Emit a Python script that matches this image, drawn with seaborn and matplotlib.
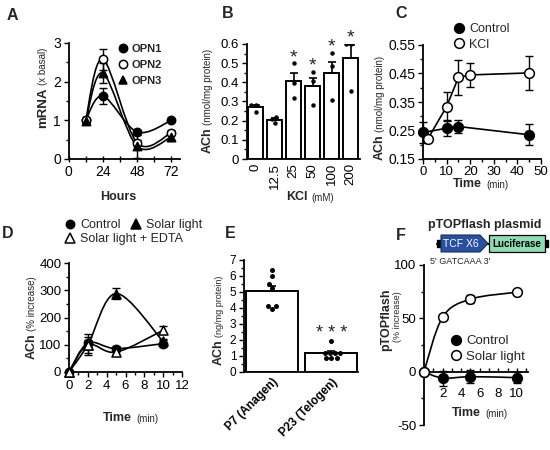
import numpy as np
import pandas as pd
import matplotlib
matplotlib.use("Agg")
import matplotlib.pyplot as plt
import seaborn as sns
from matplotlib.path import Path
from matplotlib.patches import PathPatch, Polygon, Rectangle
from matplotlib.lines import Line2D
from matplotlib.ticker import MultipleLocator, FuncFormatter

# ---------------- data ----------------
# Panel A
a_hours = [12, 24, 48, 72]
a_opn1 = [1.00, 1.63, 0.70, 1.00]
a_opn1_err = [0.05, 0.20, 0.06, 0.04]
a_opn2 = [1.00, 2.58, 0.42, 0.68]
a_opn2_err = [0.05, 0.27, 0.08, 0.06]
a_opn3 = [0.97, 2.22, 0.33, 0.57]
a_opn3_err = [0.05, 0.25, 0.30, 0.10]
a_labels = ["OPN1", "OPN2", "OPN3"]

# Panel B
b_kcl = ["0", "12.5", "25", "50", "100", "200"]
b_mean = [0.27, 0.205, 0.405, 0.38, 0.45, 0.525]
b_err = [0.01, 0.01, 0.045, 0.042, 0.055, 0.07]
b_dot_kcl = ["0"] * 3 + ["12.5"] * 3 + ["25"] * 3 + ["50"] * 3 + ["100"] * 3 + ["200"] * 3
b_dot_val = [0.28, 0.28, 0.245, 0.22, 0.21, 0.19, 0.50, 0.395, 0.32,
             0.455, 0.405, 0.28, 0.555, 0.485, 0.31, 0.60, 0.60, 0.355]
b_star = ["", "", "*", "*", "*", "*"]

# Panel C
c_ctrl_t = [0, 10, 15, 45]
c_ctrl = [0.243, 0.258, 0.264, 0.235]
c_ctrl_err = [0.037, 0.028, 0.024, 0.037]
c_kcl_t = [2, 10, 15, 20, 45]
c_kcl = [0.220, 0.334, 0.436, 0.445, 0.452]
c_kcl_err = [0.010, 0.052, 0.060, 0.043, 0.060]
c_labels = ["Control", "KCl"]

# Panel D
d_t = [0, 2, 5, 10]
d_ctrl = [0, 106, 86, 104]
d_ctrl_err = [0, 12, 10, 12]
d_solar = [0, 100, 288, 112]
d_solar_err = [0, 38, 20, 10]
d_edta = [0, 100, 73, 153]
d_edta_err = [0, 30, 8, 15]
d_labels = ["Control", "Solar light", "Solar light + EDTA"]

# Panel E
e_groups = ["P7 (Anagen)", "P23 (Telogen)"]
e_mean = [5.05, 1.18]
e_err = [0.35, 0.15]
e_dot_group = ["P7 (Anagen)"] * 7 + ["P23 (Telogen)"] * 8
e_dot_val = [6.35, 6.0, 5.5, 5.25, 4.15, 4.15, 3.95,
             1.95, 1.2, 1.2, 1.2, 1.2, 0.9, 0.9, 0.9]
e_star = ["", "* * *"]

# Panel F
f_t = [0, 2, 5, 10]
f_ctrl = [0, -6, -4.7, -5.6]
f_ctrl_err = [0, 7, 6, 5]
f_solar = [0, 51, 68, 74.5]
f_solar_err = [0, 2, 4, 2]
f_labels = ["Control", "Solar light"]

# ---------------- setup ----------------
sns.set_theme(style="ticks")
plt.rcParams["font.family"] = ["Liberation Sans", "DejaVu Sans"]
plt.rcParams["axes.linewidth"] = 1.3
plt.rcParams["axes.unicode_minus"] = False

W, H = 550, 450
fig = plt.figure(figsize=(5.5, 4.5), dpi=100)
fig.patch.set_facecolor("white")


def fx(x):
    return x / W


def fy(y):
    return 1 - y / H


def add_ax(l, t, r, b):
    return fig.add_axes([l / W, 1 - b / H, (r - l) / W, (b - t) / H])


def style(ax, size=10):
    for s in ["top", "right"]:
        ax.spines[s].set_visible(False)
    for s in ["left", "bottom"]:
        ax.spines[s].set_linewidth(1.3)
        ax.spines[s].set_color("black")
    ax.tick_params(which="both", colors="black", width=1.0, labelsize=size, pad=2)
    ax.tick_params(which="major", length=3.5)
    ax.tick_params(which="minor", length=2)
    ax.set_xlabel("")
    ax.set_ylabel("")
    ax.set_facecolor("none")


def smooth_line(ax, x, y, lw=1.2):
    pts = np.column_stack([np.asarray(x, float), np.asarray(y, float)])
    n = len(pts)
    verts = [pts[0]]
    codes = [Path.MOVETO]
    for i in range(n - 1):
        p0 = pts[i - 1] if i > 0 else pts[i]
        p1 = pts[i]
        p2 = pts[i + 1]
        p3 = pts[i + 2] if i + 2 < n else pts[i + 1]
        verts += [p1 + (p2 - p0) / 6.0, p2 - (p3 - p1) / 6.0, p2]
        codes += [Path.CURVE4] * 3
    ax.add_patch(PathPatch(Path(verts, codes), fill=False, edgecolor="black",
                           lw=lw, zorder=1, clip_on=False))


def series(ax, x, y, err, marker, filled, ms=6, smooth=True):
    if smooth:
        smooth_line(ax, x, y)
    else:
        sns.lineplot(x=x, y=y, ax=ax, color="black", lw=1.2, zorder=1,
                     legend=False, sort=False)
    ax.errorbar(x, y, yerr=err, fmt="none", ecolor="black", elinewidth=1.0,
                capsize=3, capthick=1.0, zorder=2, clip_on=False)
    sns.scatterplot(x=x, y=y, ax=ax, marker=marker, s=ms ** 2,
                    color="black" if filled else "white", edgecolor="black",
                    linewidth=1.1, zorder=4, clip_on=False, legend=False)


def handle(marker, filled, ms=6):
    return Line2D([], [], ls="none", marker=marker, ms=ms,
                  mfc="black" if filled else "white", mec="black", mew=1.1)


def ylab(ax, xpx, ybot, big, small, bs=9, ss=7, gap=2):
    t = fig.text(fx(xpx), fy(ybot), big, rotation=90, ha="center", va="bottom",
                 fontsize=bs, fontweight="bold")
    if small:
        ax.annotate(small, xy=(0.5, 1), xycoords=t, xytext=(0, gap),
                    textcoords="offset points", rotation=90, ha="center",
                    va="bottom", fontsize=ss, annotation_clip=False)


def xlab(ax, xleft, yc, big, small, bs=9, ss=7):
    t = fig.text(fx(xleft), fy(yc), big, ha="left", va="center", fontsize=bs,
                 fontweight="bold")
    if small:
        ax.annotate(small, xy=(1, 0), xycoords=t, xytext=(3, 0),
                    textcoords="offset points", ha="left", va="bottom",
                    fontsize=ss, annotation_clip=False)


def leg(ax, handles, labels, x, y, size=9, bold=False, ncol=1, ls=0.3):
    lg = ax.legend(handles, labels, loc="upper left",
                   bbox_to_anchor=(fx(x), fy(y)), bbox_transform=fig.transFigure,
                   frameon=False, prop={"size": size, "weight": "bold" if bold else "normal"},
                   handletextpad=0.3, labelspacing=ls, borderpad=0, borderaxespad=0,
                   handlelength=1.0, ncol=ncol, columnspacing=0.7)
    return lg


# ---------------- Panel A ----------------
axA = add_ax(68.5, 43, 180, 159)
series(axA, a_hours, a_opn1, a_opn1_err, "o", True, ms=6)
series(axA, a_hours, a_opn2, a_opn2_err, "o", False, ms=6)
series(axA, a_hours, a_opn3, a_opn3_err, "^", True, ms=6)
axA.set_xlim(0, 78)
axA.set_ylim(0, 3)
axA.xaxis.set_major_locator(MultipleLocator(24))
axA.xaxis.set_minor_locator(MultipleLocator(12))
axA.yaxis.set_major_locator(MultipleLocator(1))
axA.yaxis.set_minor_locator(MultipleLocator(0.5))
style(axA, 10)
axA.tick_params(axis="x", which="both", direction="inout", length=5)
leg(axA, [handle("o", True), handle("o", False), handle("^", True)], a_labels,
    117, 44, size=8, bold=True, ls=0.55)
ylab(axA, 43, 128, "mRNA", "(x basal)", bs=9.5, ss=7)
fig.text(fx(118), fy(197), "Hours", ha="center", va="center", fontsize=9, fontweight="bold")

# ---------------- Panel B ----------------
axB = add_ax(247, 44, 360, 159)
sns.barplot(x=b_kcl, y=b_mean, order=b_kcl, ax=axB, color="white", edgecolor="black",
            linewidth=1.4, width=0.8, errorbar=None, saturation=1)
bx = np.arange(len(b_kcl))
axB.errorbar(bx, b_mean, yerr=[np.zeros(len(b_err)), b_err], fmt="none", ecolor="black",
             elinewidth=1.2, capsize=3, capthick=1.2, zorder=3)
sns.swarmplot(x=b_dot_kcl, y=b_dot_val, order=b_kcl, ax=axB, color="black", size=3.2,
              zorder=5)
bdf = pd.DataFrame({"k": b_dot_kcl, "v": b_dot_val})
bmax = bdf.groupby("k")["v"].max()
for i, k in enumerate(b_kcl):
    if b_star[i]:
        top = max(bmax[k], b_mean[i] + b_err[i])
        axB.text(i, top + 0.006, b_star[i], ha="center", va="baseline", fontsize=14)
axB.set_xlim(-0.45, 5.5)
axB.set_ylim(0, 0.6)
axB.yaxis.set_major_locator(MultipleLocator(0.1))
axB.yaxis.set_minor_locator(MultipleLocator(0.05))
axB.yaxis.set_major_formatter(FuncFormatter(lambda v, p: "0" if abs(v) < 1e-9 else f"{v:.1f}"))
style(axB, 9.5)
axB.tick_params(axis="x", which="both", length=0, rotation=90, pad=3)
ylab(axB, 208, 153, "ACh", "(nmol/mg protein)", bs=9, ss=7)
xlab(axB, 286, 197, "KCl", "(mM)", bs=9, ss=7)

# ---------------- Panel C ----------------
axC = add_ax(423, 45, 541, 159)
series(axC, c_ctrl_t, c_ctrl, c_ctrl_err, "o", True, ms=7, smooth=False)
series(axC, c_kcl_t, c_kcl, c_kcl_err, "o", False, ms=7, smooth=False)
axC.set_xlim(0, 50)
axC.set_ylim(0.15, 0.55)
axC.xaxis.set_major_locator(MultipleLocator(10))
axC.xaxis.set_minor_locator(MultipleLocator(5))
axC.set_yticks([0.15, 0.25, 0.35, 0.45, 0.55])
axC.yaxis.set_minor_locator(MultipleLocator(0.05))
axC.yaxis.set_major_formatter(FuncFormatter(lambda v, p: f"{v:.2f}"))
style(axC, 10)
axC.tick_params(axis="x", labelsize=9.5, pad=1.5)
leg(axC, [handle("o", True, 7), handle("o", False, 7)], c_labels, 453, 23, size=9, ls=0.3)
ylab(axC, 380, 160, "ACh", "(nmol/mg protein)", bs=9, ss=7)
xlab(axC, 453, 184, "Time", "(min)", bs=9, ss=7)

# ---------------- Panel D ----------------
axD = add_ax(69, 263, 182, 372)
series(axD, d_t, d_ctrl, d_ctrl_err, "o", True, ms=6)
series(axD, d_t, d_solar, d_solar_err, "^", True, ms=6.5)
series(axD, d_t, d_edta, d_edta_err, "^", False, ms=6.5)
axD.set_xlim(0, 12)
axD.set_ylim(0, 400)
axD.xaxis.set_major_locator(MultipleLocator(2))
axD.xaxis.set_minor_locator(MultipleLocator(1))
axD.yaxis.set_major_locator(MultipleLocator(100))
axD.yaxis.set_minor_locator(MultipleLocator(50))
style(axD, 9.5)
lg1 = leg(axD, [handle("o", True), handle("^", True, 7)], d_labels[:2], 64, 219,
          size=9, ncol=2)
axD.add_artist(lg1)
leg(axD, [handle("^", False, 7)], d_labels[2:], 64, 233, size=9)
ylab(axD, 32, 359, "ACh", "(% increase)", bs=9, ss=7)
xlab(axD, 103, 418, "Time", "(min)", bs=9, ss=7)

# ---------------- Panel E ----------------
axE = add_ax(244, 260, 358, 372)
sns.barplot(x=e_groups, y=e_mean, order=e_groups, ax=axE, color="white", edgecolor="black",
            linewidth=1.4, width=0.87, errorbar=None, saturation=1)
ex = np.arange(len(e_groups))
axE.errorbar(ex, e_mean, yerr=[np.zeros(len(e_err)), e_err], fmt="none", ecolor="black",
             elinewidth=1.2, capsize=3, capthick=1.2, zorder=3)
sns.swarmplot(x=e_dot_group, y=e_dot_val, order=e_groups, ax=axE, color="black", size=3.6,
              zorder=5)
edf = pd.DataFrame({"g": e_dot_group, "v": e_dot_val})
emax = edf.groupby("g")["v"].max()
for i, g in enumerate(e_groups):
    if e_star[i]:
        top = max(emax[g], e_mean[i] + e_err[i])
        axE.text(i, top + 0.15, e_star[i], ha="center", va="baseline", fontsize=13)
axE.set_xlim(-0.47, 1.45)
axE.set_ylim(0, 7)
axE.yaxis.set_major_locator(MultipleLocator(1))
axE.yaxis.set_minor_locator(MultipleLocator(0.5))
style(axE, 8.5)
axE.tick_params(axis="x", which="both", length=0, pad=3)
for lab in axE.get_xticklabels():
    lab.set_rotation(45)
    lab.set_ha("right")
    lab.set_va("top")
    lab.set_rotation_mode("anchor")
    lab.set_fontweight("bold")
    lab.set_fontsize(8.5)
ylab(axE, 219, 365, "ACh", "(ng/mg protein)", bs=9, ss=6.5)

# ---------------- Panel F ----------------
axF = add_ax(424, 265, 528, 425)
series(axF, f_t, f_ctrl, f_ctrl_err, "o", True, ms=7)
series(axF, f_t, f_solar, f_solar_err, "o", False, ms=7)
axF.set_xlim(0, 11.2)
axF.set_ylim(-50, 100)
axF.set_xticks([2, 4, 6, 8, 10])
axF.xaxis.set_minor_locator(MultipleLocator(1))
axF.yaxis.set_major_locator(MultipleLocator(50))
axF.yaxis.set_minor_locator(MultipleLocator(25))
style(axF, 9.5)
axF.spines["bottom"].set_position(("data", 0))
axF.tick_params(axis="x", which="both", direction="in", length=3, labelsize=9.5, pad=12)
leg(axF, [handle("o", True, 7), handle("o", False, 7)], f_labels, 449, 335, size=9.5, ls=0.25)
fig.text(fx(386), fy(320), "pTOPflash", rotation=90, ha="center", va="center",
         fontsize=9, fontweight="bold")
fig.text(fx(397.5), fy(317), "(% increase)", rotation=90, ha="center", va="center",
         fontsize=6.5)
xlab(axF, 452, 413, "Time", "(min)", bs=9, ss=7)

# plasmid schematic
axP = fig.add_axes([fx(430), fy(268), (550 - 430) / W, (268 - 218) / H])
axP.set_xlim(430, 550)
axP.set_ylim(268, 218)
axP.axis("off")
axP.plot([437, 547], [244, 244], color="black", lw=1.5, zorder=1)
axP.add_patch(Rectangle((437, 240.5), 5, 7, color="black", zorder=2))
axP.add_patch(Rectangle((543, 240.5), 4.5, 7, color="black", zorder=2))
axP.add_patch(Polygon([(441, 235), (480, 235), (488, 243.5), (480, 252), (441, 252)],
                      closed=True, facecolor="#2a4f9f", edgecolor="#1a2f60", lw=0.8, zorder=3))
axP.add_patch(Rectangle((489, 235), 56, 17, facecolor="#8fdcb4", edgecolor="black", lw=0.9,
                        zorder=3))
axP.text(461, 244, "TCF X6", color="white", ha="center", va="center", fontsize=7.5, zorder=4)
axP.text(517, 244, "Luciferase", color="black", ha="center", va="center", fontsize=7,
         fontweight="bold", zorder=4)
axP.text(485, 225, "pTOPflash plasmid", ha="center", va="center", fontsize=9,
         fontweight="bold")
axP.text(430, 261.5, "5' GATCAAA 3'", ha="left", va="center", fontsize=6.5)

# panel letters
for ch, x, y in [("A", 12, 16), ("B", 228, 13), ("C", 401, 13),
                 ("D", 8, 234), ("E", 230, 234), ("F", 401, 235)]:
    fig.text(fx(x), fy(y), ch, ha="center", va="center", fontsize=11.5, fontweight="bold")

fig.savefig("out.png", dpi=100, facecolor="white")
